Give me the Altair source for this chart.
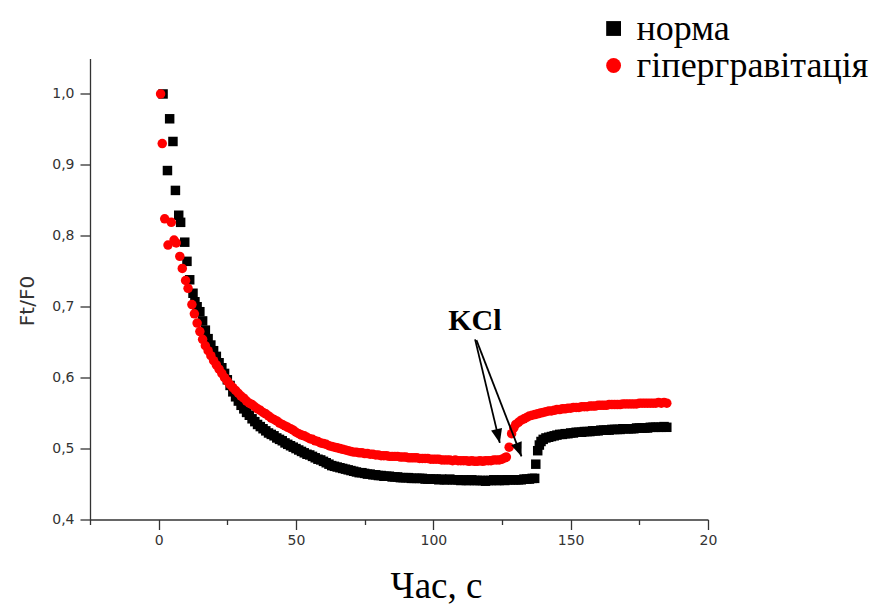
import altair as alt
import pandas as pd

# Fluorescence Ft/F0 versus time, control group ("норма")
norm_early_t = [1.6, 3.2, 4.0, 5.2, 6.1, 7.3, 8.0, 9.5, 10.3, 11.3, 12.5, 13.2]
norm_early_v = [1.000, 0.892, 0.965, 0.933, 0.864, 0.829, 0.819, 0.791, 0.764, 0.738, 0.719, 0.707]
norm_main_t = list(range(14, 137))          # 1-s sampling
norm_main_v = [
    0.700, 0.693, 0.680, 0.667, 0.655, 0.646, 0.638, 0.630, 0.621, 0.614,
    0.606, 0.597, 0.589, 0.580, 0.573, 0.567, 0.561, 0.556, 0.551, 0.547,
    0.542, 0.538, 0.534, 0.531, 0.528, 0.525, 0.522, 0.520, 0.518, 0.515,
    0.513, 0.511, 0.508, 0.506, 0.504, 0.502, 0.500, 0.498, 0.496, 0.494,
    0.492, 0.491, 0.489, 0.487, 0.485, 0.484, 0.482, 0.480, 0.478, 0.476,
    0.475, 0.474, 0.473, 0.472, 0.471, 0.470, 0.469, 0.468, 0.467, 0.466,
    0.466, 0.465, 0.464, 0.464, 0.463, 0.463, 0.462, 0.462, 0.461, 0.461,
    0.461, 0.460, 0.460, 0.460, 0.459, 0.459, 0.459, 0.459, 0.458, 0.458,
    0.458, 0.458, 0.458, 0.457, 0.457, 0.457, 0.457, 0.457, 0.456, 0.457,
    0.456, 0.456, 0.457, 0.456, 0.456, 0.456, 0.455, 0.456, 0.455, 0.455,
    0.456, 0.455, 0.455, 0.455, 0.455, 0.454, 0.455, 0.455, 0.456, 0.455,
    0.455, 0.456, 0.455, 0.456, 0.456, 0.456, 0.456, 0.456, 0.456, 0.457,
    0.457, 0.457, 0.458,
]
norm_jump_t = [136.9, 137.3, 138.0, 138.6, 139.2]
norm_jump_v = [0.458, 0.478, 0.497, 0.505, 0.510]
norm_late_t = list(range(140, 186))
norm_late_v = [
    0.513, 0.515, 0.516, 0.517, 0.518, 0.519, 0.520, 0.520, 0.521, 0.521,
    0.522, 0.522, 0.523, 0.523, 0.523, 0.524, 0.524, 0.524, 0.525, 0.525,
    0.525, 0.526, 0.526, 0.526, 0.526, 0.527, 0.527, 0.527, 0.527, 0.528,
    0.528, 0.528, 0.528, 0.528, 0.529, 0.529, 0.529, 0.529, 0.529, 0.530,
    0.530, 0.530, 0.530, 0.530, 0.531, 0.530,
]

# Hypergravity group ("гіпергравітація")
hyper_early_t = [0.7, 1.3, 2.2, 3.4, 4.6, 5.6, 6.4, 7.7, 8.6, 9.8, 10.7, 12.1]
hyper_early_v = [1.000, 0.930, 0.824, 0.787, 0.819, 0.794, 0.790, 0.771, 0.754, 0.737, 0.726, 0.703]
hyper_main_t = list(range(13, 127))
hyper_main_v = [
    0.690, 0.677, 0.665, 0.654, 0.645, 0.638, 0.631, 0.624, 0.618, 0.612,
    0.606, 0.600, 0.595, 0.590, 0.586, 0.582, 0.578, 0.574, 0.571, 0.567,
    0.564, 0.562, 0.559, 0.556, 0.554, 0.551, 0.549, 0.546, 0.543, 0.541,
    0.539, 0.536, 0.534, 0.532, 0.530, 0.528, 0.526, 0.523, 0.521, 0.519,
    0.518, 0.516, 0.514, 0.513, 0.511, 0.510, 0.508, 0.507, 0.506, 0.504,
    0.503, 0.502, 0.501, 0.500, 0.499, 0.498, 0.497, 0.496, 0.495, 0.495,
    0.494, 0.494, 0.493, 0.493, 0.492, 0.492, 0.491, 0.491, 0.490, 0.490,
    0.490, 0.489, 0.489, 0.489, 0.489, 0.488, 0.488, 0.488, 0.487, 0.487,
    0.487, 0.487, 0.486, 0.486, 0.486, 0.486, 0.485, 0.485, 0.485, 0.485,
    0.484, 0.484, 0.484, 0.484, 0.483, 0.484, 0.483, 0.483, 0.483, 0.483,
    0.482, 0.483, 0.482, 0.482, 0.483, 0.482, 0.483, 0.483, 0.483, 0.484,
    0.484, 0.484, 0.485, 0.487,
]
hyper_jump_t = [126.6, 127.6, 128.5, 129.3]
hyper_jump_v = [0.488, 0.502, 0.521, 0.529]
hyper_late_t = list(range(130, 186))
hyper_late_v = [
    0.534, 0.537, 0.540, 0.542, 0.544, 0.546, 0.547, 0.548, 0.549, 0.550,
    0.551, 0.552, 0.553, 0.553, 0.554, 0.555, 0.555, 0.556, 0.556, 0.557,
    0.557, 0.558, 0.558, 0.558, 0.559, 0.559, 0.559, 0.560, 0.560, 0.560,
    0.561, 0.561, 0.561, 0.561, 0.562, 0.562, 0.562, 0.562, 0.562, 0.563,
    0.563, 0.563, 0.563, 0.563, 0.563, 0.564, 0.564, 0.564, 0.564, 0.564,
    0.564, 0.564, 0.565, 0.564, 0.565, 0.564,
]

SERIES = ["норма", "гіпергравітація"]
SERIES_COLORS = ["#000000", "#ff0000"]
SERIES_SHAPES = ["square", "circle"]

X_TICKS = [-25, 0, 25, 50, 75, 100, 125, 150, 175, 200]
Y_TICKS = [0.4, 0.45, 0.5, 0.55, 0.6, 0.65, 0.7, 0.75, 0.8, 0.85, 0.9, 0.95, 1.0, 1.05]

# KCl application marker: label and two arrows (start -> tip)
kcl_text = ["KCl"]
kcl_t = [115.1]
kcl_v = [0.667]
arrow_t0 = [115.2, 115.7]
arrow_v0 = [0.654, 0.653]
arrow_t1 = [124.2, 132.1]
arrow_v1 = [0.508, 0.489]
arrow_angle = [346.6, 338.9]

norm_t = norm_early_t + norm_main_t + norm_jump_t + norm_late_t
norm_v = norm_early_v + norm_main_v + norm_jump_v + norm_late_v
hyper_t = hyper_early_t + hyper_main_t + hyper_jump_t + hyper_late_t
hyper_v = hyper_early_v + hyper_main_v + hyper_jump_v + hyper_late_v

points = pd.DataFrame({
    "t": norm_t + hyper_t,
    "v": norm_v + hyper_v,
    "series": [SERIES[0]] * len(norm_t) + [SERIES[1]] * len(hyper_t),
})
points["idx"] = range(len(points))
arrows = pd.DataFrame({"t0": arrow_t0, "v0": arrow_v0, "t1": arrow_t1, "v1": arrow_v1,
                       "angle": arrow_angle})
label = pd.DataFrame({"t": kcl_t, "v": kcl_v, "text": kcl_text})

x_scale = alt.Scale(domain=[-25, 200], nice=False, zero=False)
y_scale = alt.Scale(domain=[0.4, 1.05], nice=False, zero=False)

axis_common = dict(
    domainColor="#333333", domainWidth=1.3, tickColor="#333333", tickWidth=1.3,
    labelFont="DejaVu Sans", labelFontSize=14, labelColor="#333333", grid=False,
)

x_axis = alt.Axis(
    values=X_TICKS,
    labelExpr="datum.value % 50 != 0 ? '' : (datum.value == 200 ? '20' : datum.label)",
    tickSize={"condition": {"test": "datum.value % 50 != 0", "value": 5}, "value": 10},
    labelPadding=4, labelFlush=False, labelOverlap=False,
    title="Час, с", titleFont="Liberation Serif", titleFontSize=37, titleFontWeight="normal",
    titleColor="#000000", titleX=346, titleY=78, titleBaseline="alphabetic",
    titleAnchor="middle", titleAlign="center",
    **axis_common,
)
minor_y = "abs(datum.value * 10 - round(datum.value * 10)) > 0.01"
y_axis = alt.Axis(
    values=Y_TICKS,
    labelExpr=f"{minor_y} ? '' : replace(format(datum.value, '.1f'), '.', ',')",
    tickSize={"condition": {"test": minor_y, "value": 5}, "value": 10},
    labelPadding=6, labelFlush=False, labelOverlap=False,
    title="Ft/F0", titleFont="DejaVu Sans", titleFontSize=20, titleFontWeight="normal",
    titleColor="#333333", titleAngle=270, titleX=-57, titleY=242,
    titleBaseline="alphabetic", titleAlign="center",
    **axis_common,
)

scatter = alt.Chart(points).mark_point(filled=True, size=90, opacity=1, strokeWidth=0).encode(
    x=alt.X("t:Q", scale=x_scale, axis=x_axis),
    y=alt.Y("v:Q", scale=y_scale, axis=y_axis),
    color=alt.Color("series:N", title=None,
                    scale=alt.Scale(domain=SERIES, range=SERIES_COLORS),
                    legend=alt.Legend(orient="none", legendX=505.6, legendY=-48,
                                      symbolSize=220, symbolStrokeWidth=0,
                                      labelFont="Liberation Serif", labelFontSize=36,
                                      labelColor="#000000", labelLimit=400,
                                      labelOffset=5, rowPadding=1, padding=0)),
    shape=alt.Shape("series:N", title=None,
                    scale=alt.Scale(domain=SERIES, range=SERIES_SHAPES)),
    order=alt.Order("idx:Q"),
)

shafts = alt.Chart(arrows).mark_rule(color="#000000", strokeWidth=1.8).encode(
    x=alt.X("t0:Q", scale=x_scale),
    y=alt.Y("v0:Q", scale=y_scale),
    x2="t1:Q",
    y2="v1:Q",
)

heads = alt.Chart(arrows).mark_point(
    shape="M0,0L-0.4,-1L0.4,-1Z", filled=True, size=784, color="#000000",
    opacity=1, strokeWidth=0,
).encode(
    x=alt.X("t1:Q", scale=x_scale),
    y=alt.Y("v1:Q", scale=y_scale),
    angle=alt.Angle("angle:Q", scale=None),
)

kcl = alt.Chart(label).mark_text(
    font="Liberation Serif", fontSize=30, fontWeight="bold", color="#000000",
    align="center", baseline="alphabetic",
).encode(
    x=alt.X("t:Q", scale=x_scale),
    y=alt.Y("v:Q", scale=y_scale),
    text="text:N",
)

chart = alt.layer(scatter, shafts, heads, kcl).properties(
    width=618, height=461,
    autosize=alt.AutoSizeParams(type="none"),
    padding={"left": 90, "top": 58.5, "right": 169, "bottom": 86.5},
    background="#ffffff",
).configure_view(strokeWidth=0)

chart.save("out.html", embed_options={"renderer": "svg", "actions": False})
